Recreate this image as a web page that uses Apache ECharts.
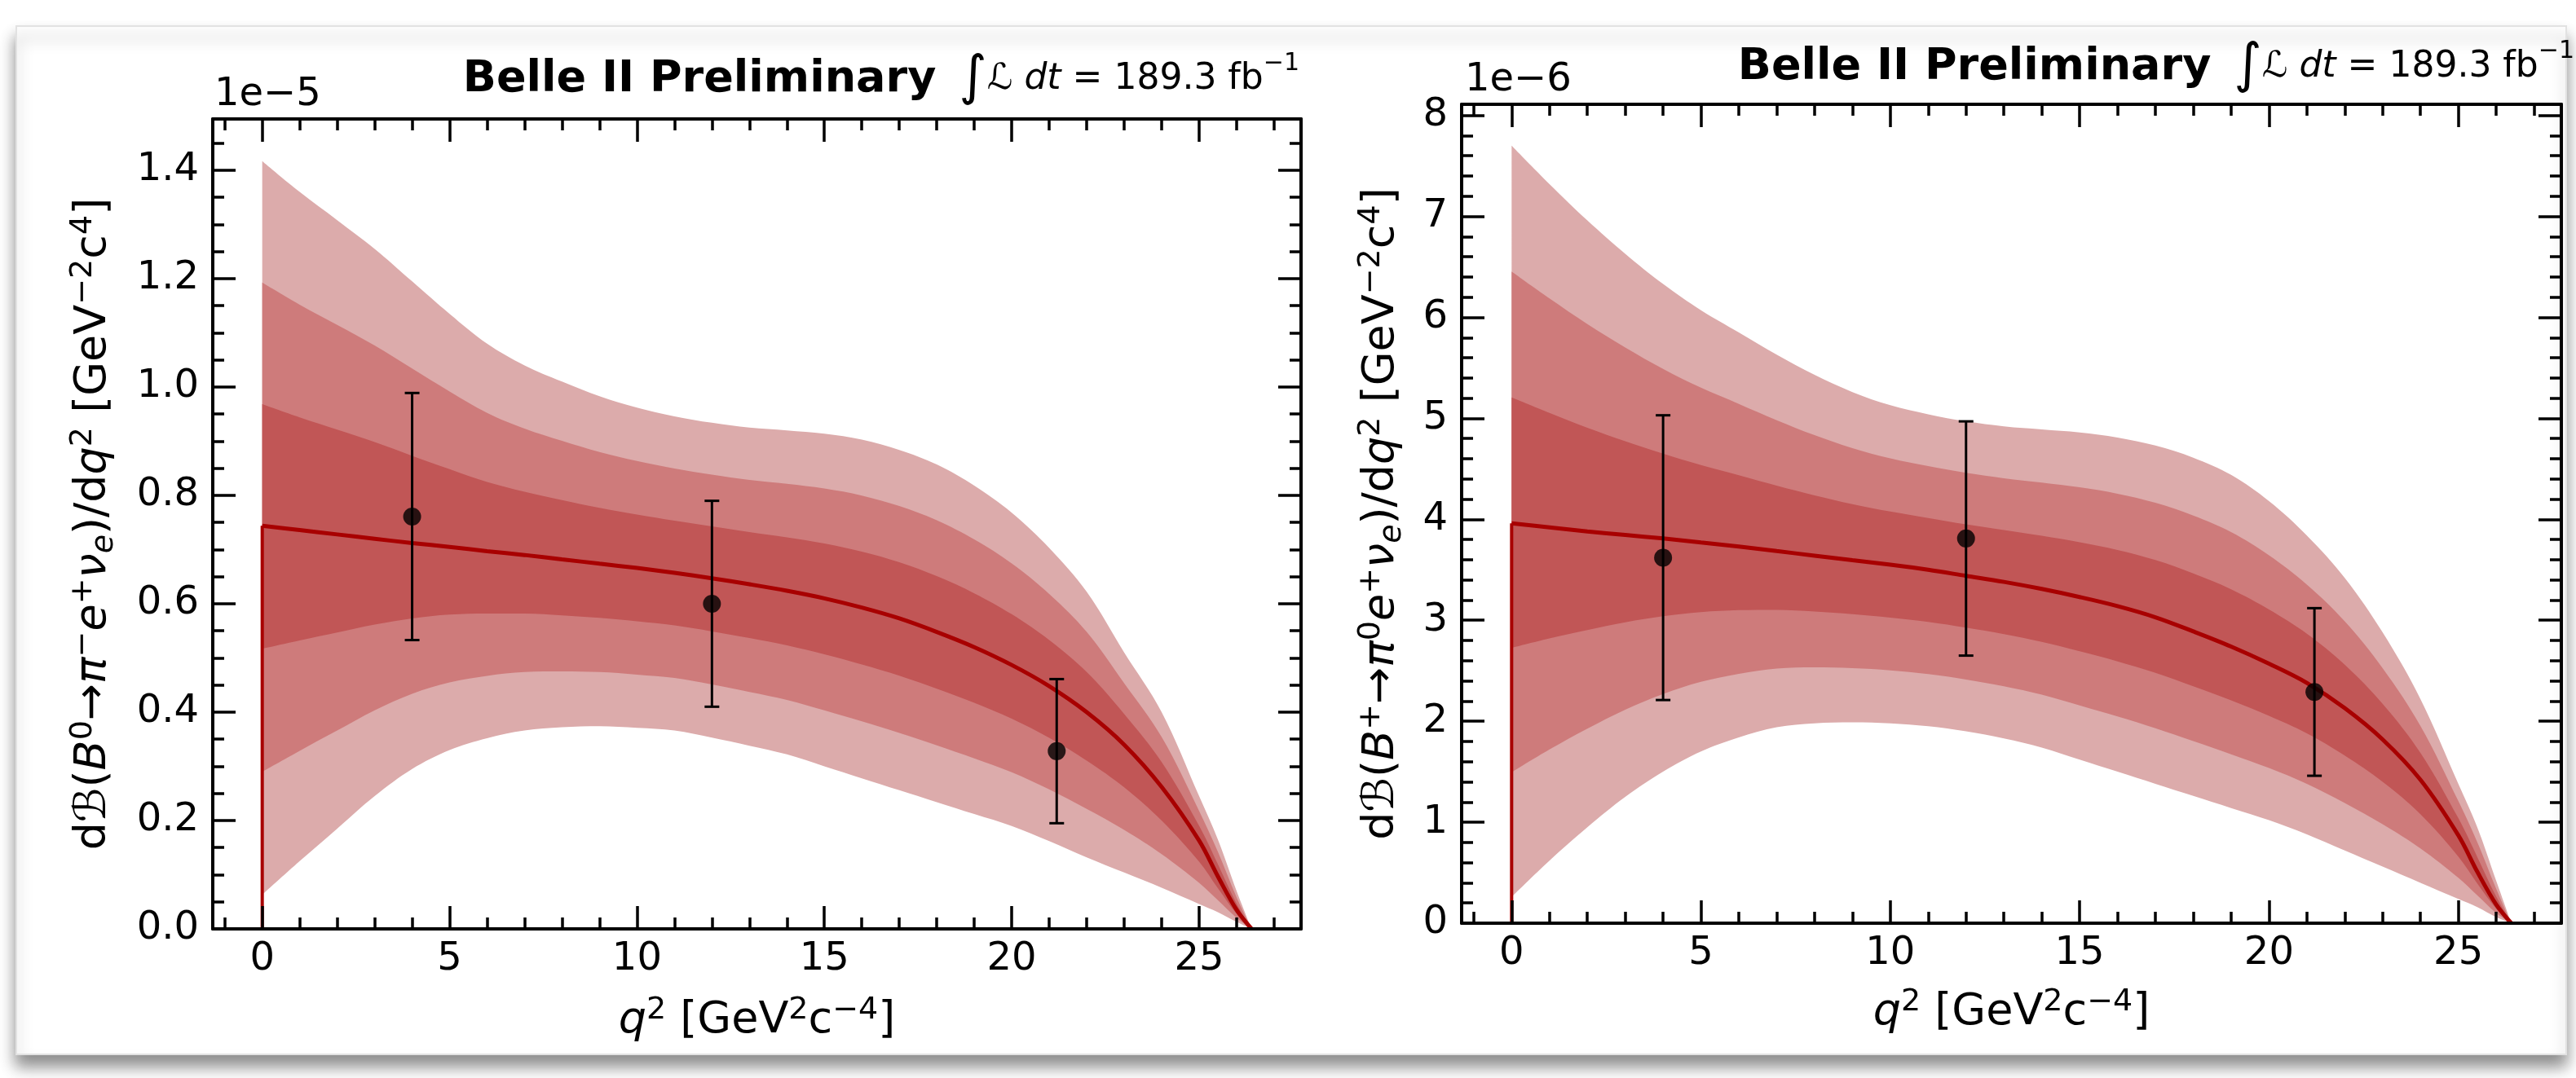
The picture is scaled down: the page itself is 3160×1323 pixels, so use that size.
<!DOCTYPE html>
<html><head><meta charset="utf-8">
<script src="https://cdn.jsdelivr.net/npm/echarts@6/dist/echarts.min.js"></script>
<style>html,body{margin:0;padding:0;background:#fff}#c{width:3160px;height:1323px}</style>
</head><body><div id="c"></div>
<script>
// ---------------- data ----------------
const qGrid = [0,1,2,3,4,5,6,7,8,9,10,11,12,13,14,15,16,17,18,19,20,21,22,23,24,25,25.5,26,26.4];

// left panel: B0 -> pi- e+ nu  (units 1e-5)
const leftCenter  = [0.744,0.736,0.728,0.720,0.712,0.705,0.697,0.690,0.682,0.674,0.666,0.657,0.647,0.636,0.624,0.610,0.593,0.573,0.548,0.520,0.487,0.448,0.400,0.340,0.262,0.163,0.097,0.035,0];
const leftOuterHi = [1.417,1.360,1.308,1.255,1.195,1.135,1.080,1.040,1.010,0.983,0.962,0.946,0.934,0.925,0.920,0.914,0.903,0.884,0.857,0.818,0.768,0.703,0.622,0.510,0.400,0.245,0.165,0.070,0];
const leftOuterLo = [0.063,0.125,0.185,0.245,0.295,0.330,0.352,0.366,0.372,0.374,0.371,0.366,0.353,0.338,0.322,0.300,0.278,0.256,0.234,0.212,0.190,0.162,0.132,0.104,0.076,0.046,0.031,0.013,0];

// right panel: B+ -> pi0 e+ nu  (units 1e-6)
const rightCenter  = [3.96,3.92,3.88,3.845,3.81,3.77,3.73,3.685,3.64,3.595,3.55,3.50,3.44,3.38,3.31,3.23,3.14,3.03,2.89,2.74,2.57,2.38,2.13,1.82,1.42,0.87,0.51,0.185,0];
const rightOuterHi = [7.70,7.32,6.96,6.63,6.33,6.07,5.85,5.63,5.43,5.26,5.13,5.04,4.97,4.92,4.89,4.86,4.81,4.73,4.61,4.44,4.18,3.84,3.42,2.88,2.22,1.38,0.95,0.42,0];
const rightOuterLo = [0.26,0.62,0.95,1.25,1.50,1.70,1.84,1.94,1.98,1.99,1.98,1.95,1.90,1.83,1.74,1.62,1.50,1.38,1.26,1.14,1.02,0.88,0.72,0.56,0.40,0.24,0.16,0.06,0];

// measured points
const pointQ = [4, 12, 21.2];
const leftPointY   = [0.761, 0.600, 0.328];
const leftPointErr = [0.228, 0.190, 0.133];
const rightPointY   = [3.62, 3.81, 2.29];
const rightPointErr = [1.41, 1.16, 0.83];

// ticks
const xMajorTicks = [0,5,10,15,20,25];
const xMinorTicks = [-1,1,2,3,4,6,7,8,9,11,12,13,14,16,17,18,19,21,22,23,24,26,27];
const leftYMajorTicks = [0,0.2,0.4,0.6,0.8,1.0,1.2,1.4];
const leftYMinorTicks = [0.05,0.1,0.15,0.25,0.3,0.35,0.45,0.5,0.55,0.65,0.7,0.75,0.85,0.9,0.95,1.05,1.1,1.15,1.25,1.3,1.35,1.45];
const rightYMajorTicks = [0,1,2,3,4,5,6,7,8];
const rightYMinorTicks = [0.2,0.4,0.6,0.8,1.2,1.4,1.6,1.8,2.2,2.4,2.6,2.8,3.2,3.4,3.6,3.8,4.2,4.4,4.6,4.8,5.2,5.4,5.6,5.8,6.2,6.4,6.6,6.8,7.2,7.4,7.6,7.8];

// ---------------- styling ----------------
const FF = 'DejaVu Sans';
const C_LIGHT = '#dcabab', C_MID = '#ce7b7b', C_DARK = '#c15656', C_LINE = '#a80000';
const X_MIN = -1.32, X_MAX = 27.72;
const SMOOTH = 0.35;

function richStyles(F) {
  return {
    n:   {fontSize: F, fontFamily: FF, color: '#000', lineHeight: 64},
    i:   {fontSize: F, fontFamily: FF, color: '#000', lineHeight: 64, fontStyle: 'italic'},
    sup: {fontSize: Math.round(F * 0.7), fontFamily: FF, color: '#000', lineHeight: 22, verticalAlign: 'top'},
    sub: {fontSize: Math.round(F * 0.7), fontFamily: FF, color: '#000', lineHeight: 24, verticalAlign: 'bottom', fontStyle: 'italic'}
  };
}
const AX_F = 54;
const xName = '{i|q}{sup|2}{n| [GeV}{sup|2}{n|c}{sup|−4}{n|]}';
const leftYName = '{n|d}{i|ℬ}{n|(}{i|B}{sup|0}{n|→}{i|π}{sup|−}{i|e}{sup|+}{i|ν}{sub|e}{n|)/d}{i|q}{sup|2}{n| [GeV}{sup|−2}{n|c}{sup|4}{n|]}';
const rightYName = '{n|d}{i|ℬ}{n|(}{i|B}{sup|+}{n|→}{i|π}{sup|0}{i|e}{sup|+}{i|ν}{sub|e}{n|)/d}{i|q}{sup|2}{n| [GeV}{sup|−2}{n|c}{sup|4}{n|]}';

const lineSt = {color: '#000', width: 4};
const tickSt = {color: '#000', width: 3.5};
const labelSt = {fontSize: 48, fontFamily: FF, color: '#000'};
const AXIS_Z = 10;

function xAxes(g, nameGap) {
  const base = {type: 'value', gridIndex: g, z: AXIS_Z, min: X_MIN, max: X_MAX, splitLine: {show: false}, minorTick: {show: false}, minorSplitLine: {show: false}, axisPointer: {show: false}};
  return [
    Object.assign({}, base, {position: 'bottom',
      axisLine: {show: true, onZero: false, lineStyle: lineSt},
      axisTick: {show: true, inside: true, length: 28, lineStyle: tickSt, customValues: xMajorTicks},
      axisLabel: Object.assign({show: true, customValues: xMajorTicks, margin: 14, formatter: v => String(v)}, labelSt),
      name: xName, nameLocation: 'middle', nameGap: nameGap, nameTextStyle: {rich: richStyles(AX_F)}}),
    Object.assign({}, base, {position: 'top',
      axisLine: {show: true, onZero: false, lineStyle: lineSt},
      axisTick: {show: true, inside: true, length: 28, lineStyle: tickSt, customValues: xMajorTicks},
      axisLabel: {show: false}}),
    Object.assign({}, base, {position: 'bottom',
      axisLine: {show: false, onZero: false},
      axisTick: {show: true, inside: true, length: 14, lineStyle: tickSt, customValues: xMinorTicks},
      axisLabel: {show: false}}),
    Object.assign({}, base, {position: 'top',
      axisLine: {show: false, onZero: false},
      axisTick: {show: true, inside: true, length: 14, lineStyle: tickSt, customValues: xMinorTicks},
      axisLabel: {show: false}})
  ];
}
function yAxes(g, max, major, minor, fmt, name, nameGap) {
  const base = {type: 'value', gridIndex: g, z: AXIS_Z, min: 0, max: max, splitLine: {show: false}, minorTick: {show: false}, minorSplitLine: {show: false}, axisPointer: {show: false}};
  return [
    Object.assign({}, base, {position: 'left',
      axisLine: {show: true, onZero: false, lineStyle: lineSt},
      axisTick: {show: true, inside: true, length: 28, lineStyle: tickSt, customValues: major},
      axisLabel: Object.assign({show: true, customValues: major, margin: 17, formatter: fmt}, labelSt),
      name: name, nameLocation: 'middle', nameRotate: 90, nameGap: nameGap, nameTextStyle: {rich: richStyles(AX_F)}}),
    Object.assign({}, base, {position: 'right',
      axisLine: {show: true, onZero: false, lineStyle: lineSt},
      axisTick: {show: true, inside: true, length: 28, lineStyle: tickSt, customValues: major},
      axisLabel: {show: false}}),
    Object.assign({}, base, {position: 'left',
      axisLine: {show: false, onZero: false},
      axisTick: {show: true, inside: true, length: 14, lineStyle: tickSt, customValues: minor},
      axisLabel: {show: false}}),
    Object.assign({}, base, {position: 'right',
      axisLine: {show: false, onZero: false},
      axisTick: {show: true, inside: true, length: 14, lineStyle: tickSt, customValues: minor},
      axisLabel: {show: false}})
  ];
}

// Bands: each edge is filled down to the axis; drawn from the top edge to the
// bottom edge so that each later (opaque) fill covers the region below it.
function bandSeries(xi, yi, center, hi, lo) {
  const edge = (k, outer) => center.map((c, i) => c + (outer[i] - c) * k / 3);
  const layers = [
    {vals: edge(3, hi), color: C_LIGHT},
    {vals: edge(2, hi), color: C_MID},
    {vals: edge(1, hi), color: C_DARK},
    {vals: edge(1, lo), color: C_MID},
    {vals: edge(2, lo), color: C_LIGHT},
    {vals: edge(3, lo), color: '#ffffff'}
  ];
  return layers.map(L => ({
    type: 'line', xAxisIndex: xi, yAxisIndex: yi,
    data: qGrid.map((q, i) => [q, L.vals[i]]), smooth: SMOOTH,
    symbol: 'none', showSymbol: false,
    lineStyle: {width: 0, opacity: 0}, areaStyle: {color: L.color, opacity: 1, origin: 'start'},
    z: 1, silent: true
  }));
}
function curveSeries(xi, yi, center) {
  return [
    {type: 'line', xAxisIndex: xi, yAxisIndex: yi, data: qGrid.map((q, i) => [q, center[i]]),
     smooth: SMOOTH, symbol: 'none', lineStyle: {color: C_LINE, width: 5}, z: 3, silent: true},
    {type: 'line', xAxisIndex: xi, yAxisIndex: yi, data: [[qGrid[0], 0], [qGrid[0], center[0]]],
     symbol: 'none', lineStyle: {color: C_LINE, width: 4}, z: 3, silent: true}
  ];
}
function pointSeries(xi, yi, ys, errs) {
  return [
    {type: 'custom', xAxisIndex: xi, yAxisIndex: yi, z: 4, silent: true,
     data: pointQ.map((q, i) => [q, ys[i], errs[i]]),
     encode: {x: 0, y: 1},
     renderItem: function (params, api) {
       const x = api.value(0), y = api.value(1), e = api.value(2);
       const t = api.coord([x, y + e]), b = api.coord([x, y - e]);
       const cw = 9, st = {stroke: '#000', lineWidth: 3};
       return {type: 'group', children: [
         {type: 'line', shape: {x1: t[0], y1: t[1], x2: b[0], y2: b[1]}, style: st},
         {type: 'line', shape: {x1: t[0] - cw, y1: t[1], x2: t[0] + cw, y2: t[1]}, style: st},
         {type: 'line', shape: {x1: b[0] - cw, y1: b[1], x2: b[0] + cw, y2: b[1]}, style: st}
       ]};
     }},
    {type: 'scatter', xAxisIndex: xi, yAxisIndex: yi, z: 5, silent: true, symbol: 'circle', symbolSize: 22,
     itemStyle: {color: '#000'}, data: pointQ.map((q, i) => [q, ys[i]])}
  ];
}

const titleRich = {
  b:   {fontSize: 54, fontWeight: 'bold', fontFamily: FF, color: '#000', lineHeight: 70},
  int: {fontSize: 66, fontFamily: FF, fontStyle: 'italic', color: '#000', lineHeight: 70},
  it:  {fontSize: 44, fontFamily: FF, fontStyle: 'italic', color: '#000', lineHeight: 70},
  m:   {fontSize: 44, fontFamily: FF, color: '#000', lineHeight: 70},
  sup: {fontSize: 30, fontFamily: FF, color: '#000', lineHeight: 30, verticalAlign: 'top'}
};
const titleText = '{b|Belle II Preliminary}{m|  }{int|∫}{it|ℒ dt}{m| = 189.3 fb}{sup|−1}';

const option = {
  animation: false,
  backgroundColor: '#fff',
  graphic: [
    {type: 'rect', z: -10, silent: true, shape: {x: 20, y: 32, width: 3128, height: 1262},
     style: {fill: '#fff', stroke: '#e2e2e2', lineWidth: 2, shadowBlur: 18, shadowOffsetX: 0, shadowOffsetY: 14, shadowColor: 'rgba(0,0,0,0.45)'}},
    {type: 'text', x: 1594, y: 98, silent: true, style: {text: titleText, rich: titleRich, align: 'right', verticalAlign: 'middle'}},
    {type: 'text', x: 3158, y: 83, silent: true, style: {text: titleText, rich: titleRich, align: 'right', verticalAlign: 'middle'}},
    {type: 'text', x: 263, y: 117, silent: true, style: {text: '1e−5', fontSize: 48, fontFamily: FF, fill: '#000', align: 'left', verticalAlign: 'middle'}},
    {type: 'text', x: 1797, y: 99, silent: true, style: {text: '1e−6', fontSize: 48, fontFamily: FF, fill: '#000', align: 'left', verticalAlign: 'middle'}}
  ],
  grid: [
    {left: 261, top: 146, width: 1335, height: 994},
    {left: 1793, top: 128, width: 1349, height: 1005}
  ],
  xAxis: xAxes(0, 81).concat(xAxes(1, 78)),
  yAxis: yAxes(0, 1.4947, leftYMajorTicks, leftYMinorTicks, v => v.toFixed(1), leftYName, 114)
    .concat(yAxes(1, 8.11, rightYMajorTicks, rightYMinorTicks, v => String(Math.round(v)), rightYName, 66)),
  series: [].concat(
    bandSeries(0, 0, leftCenter, leftOuterHi, leftOuterLo),
    curveSeries(0, 0, leftCenter),
    pointSeries(0, 0, leftPointY, leftPointErr),
    bandSeries(4, 4, rightCenter, rightOuterHi, rightOuterLo),
    curveSeries(4, 4, rightCenter),
    pointSeries(4, 4, rightPointY, rightPointErr)
  )
};
const chart = echarts.init(document.getElementById('c'), null, {renderer: 'canvas', width: 3160, height: 1323});
chart.setOption(option);
</script>
</body></html>
